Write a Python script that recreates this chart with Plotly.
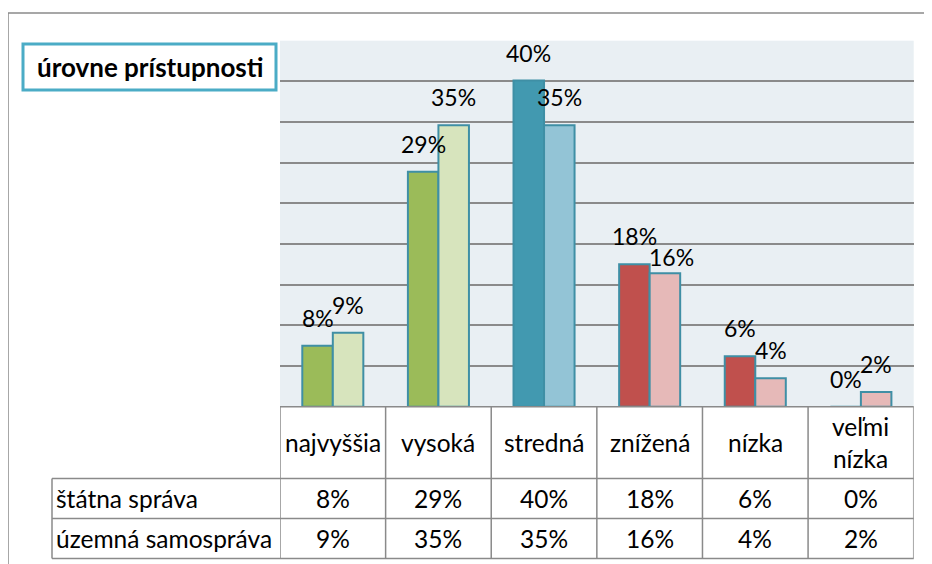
import plotly.graph_objects as go

# kategórie a hodnoty (v %)
kategorie = ['najvyššia', 'vysoká', 'stredná', 'znížená', 'nízka', 'veľmi nízka']
hlavicka = ['najvyššia', 'vysoká', 'stredná', 'znížená', 'nízka', 'veľmi<br>nízka']
serie = ['štátna správa', 'územná samospráva']

statna = [7.5, 28.9, 40.1, 17.5, 6.2, 0.0]
uzemna = [9.1, 34.6, 34.6, 16.4, 3.5, 1.8]

statna_txt = ['8%', '29%', '40%', '18%', '6%', '0%']
uzemna_txt = ['9%', '35%', '35%', '16%', '4%', '2%']

W, H = 932, 564
OFF = 8  # okraj stránky
FONT = 'Lato'


def px(x):
    return (x - OFF) / W


def py(y):
    return 1 - (y - OFF) / H


tmave = ['#9bbb59', '#9bbb59', '#4299b0', '#c0504d', '#c0504d', '#c0504d']
svetle = ['#d7e4bd', '#d7e4bd', '#93c4d6', '#e6b9b8', '#e6b9b8', '#e6b9b8']
okraj = '#3f8fa5'
siva = '#8a8a8a'

fig = go.Figure()
fig.add_trace(go.Bar(x=kategorie, y=statna, name=serie[0],
                     marker=dict(color=tmave, line=dict(color=okraj, width=2))))
fig.add_trace(go.Bar(x=kategorie, y=uzemna, name=serie[1],
                     marker=dict(color=svetle, line=dict(color=okraj, width=2))))

# plocha grafu
x0, x1 = 280, 913.7
y_top, y_bot = 40.7, 406.7
riadky = [478.5, 518.5, 558.5]

ann = []
# popisky nad stĺpcami
posun = {(1, 3): (7, -12)}
for s, (vals, txts) in enumerate([(statna, statna_txt), (uzemna, uzemna_txt)]):
    for i, (v, t) in enumerate(zip(vals, txts)):
        dx, dy = posun.get((s, i), (0, 0))
        ann.append(dict(x=kategorie[i], y=v, xref='x', yref='y', text=t,
                        showarrow=False, xanchor='center', yanchor='bottom',
                        xshift=(-15.3 if s == 0 else 15.3) + dx, yshift=12 + dy,
                        font=dict(family=FONT, size=23, color='black')))

# tabuľka s údajmi
for i, k in enumerate(hlavicka):
    ann.append(dict(x=kategorie[i], y=py((y_bot + riadky[0]) / 2), xref='x', yref='paper',
                    text=k, showarrow=False, xanchor='center', yanchor='middle',
                    font=dict(family=FONT, size=24.5, color='black')))
for r, (nazov, txts) in enumerate([(serie[0], statna_txt), (serie[1], uzemna_txt)]):
    yc = py((riadky[r] + riadky[r + 1]) / 2)
    ann.append(dict(x=px(54), y=yc, xref='paper', yref='paper', text=nazov,
                    xanchor='left', yanchor='middle', showarrow=False,
                    font=dict(family=FONT, size=24.5, color='black')))
    for i, t in enumerate(txts):
        ann.append(dict(x=kategorie[i], y=yc, xref='x', yref='paper', text=t,
                        showarrow=False, xanchor='center', yanchor='middle',
                        font=dict(family=FONT, size=24.5, color='black')))

# nadpis
ann.append(dict(x=px(149.5), y=py(67), xref='paper', yref='paper',
                text='<b>úrovne prístupnosti</b>', showarrow=False,
                xanchor='center', yanchor='middle',
                font=dict(family=FONT, size=26, color='black')))

shapes = []
# vonkajší rámik
shapes.append(dict(type='line', xref='paper', yref='paper', x0=px(8), x1=1, y0=py(13), y1=py(13),
                   line=dict(color=siva, width=1.5)))
shapes.append(dict(type='line', xref='paper', yref='paper', x0=px(8), x1=px(8), y0=py(13), y1=0,
                   line=dict(color=siva, width=1.5)))
# rámik nadpisu
shapes.append(dict(type='rect', xref='paper', yref='paper', x0=px(23), x1=px(276),
                   y0=py(44), y1=py(90), line=dict(color='#4bacc6', width=3), fillcolor='white'))
# čiary tabuľky
shapes.append(dict(type='line', xref='paper', yref='paper', x0=px(x0), x1=px(x1),
                   y0=py(y_bot), y1=py(y_bot), line=dict(color=siva, width=1.5)))
for yy in riadky:
    shapes.append(dict(type='line', xref='paper', yref='paper', x0=px(52), x1=px(x1),
                       y0=py(yy), y1=py(yy), line=dict(color=siva, width=1.5)))
for i in range(len(kategorie) + 1):
    shapes.append(dict(type='line', xref='x', yref='paper', x0=i - 0.5, x1=i - 0.5,
                       y0=py(y_bot), y1=py(riadky[-1]), line=dict(color=siva, width=1.5)))
shapes.append(dict(type='line', xref='paper', yref='paper', x0=px(52), x1=px(52),
                   y0=py(riadky[0]), y1=py(riadky[-1]), line=dict(color=siva, width=1.5)))

fig.update_layout(
    width=W, height=H, autosize=False,
    margin=dict(l=0, r=0, t=0, b=0),
    paper_bgcolor='white', plot_bgcolor='#e9eff3',
    showlegend=False, barmode='group', bargap=0.422, bargroupgap=0,
    xaxis=dict(domain=[px(x0), px(x1)], range=[-0.5, 5.5], showticklabels=False,
               showgrid=False, zeroline=False, showline=False, fixedrange=True),
    yaxis=dict(domain=[py(y_bot), py(y_top)], range=[0, 45], dtick=5,
               showticklabels=False, showgrid=True, gridcolor=siva, gridwidth=1.5,
               zeroline=False, showline=False, fixedrange=True),
    annotations=ann, shapes=shapes,
    font=dict(family=FONT),
)

fig.write_html("out.html")
